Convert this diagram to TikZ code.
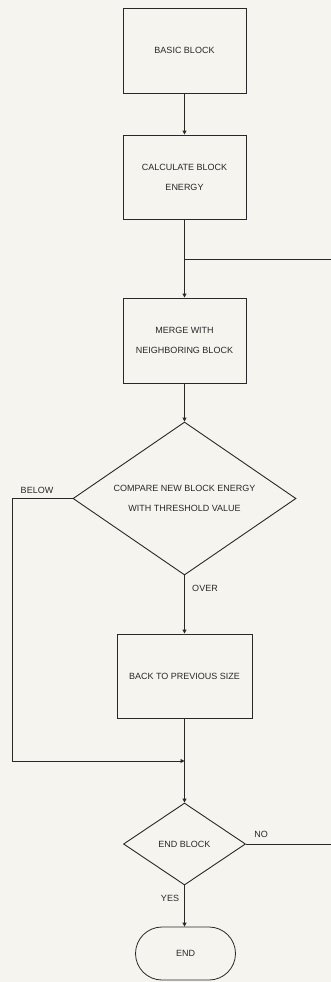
\documentclass[tikz,border=0pt]{standalone}
\usepackage{fontspec}
\setmainfont{Liberation Sans}
\usetikzlibrary{shapes.geometric,shapes.misc,arrows.meta}
\definecolor{paper}{RGB}{246,244,238}
\definecolor{ink}{RGB}{40,40,40}
\begin{document}
\begin{tikzpicture}[x=1pt,y=-1pt,
  every node/.style={font=\fontsize{9}{20}\selectfont, text=ink},
  procbox/.style={draw=ink, line width=0.9pt, rectangle, inner sep=0pt, align=center},
  decision/.style={draw=ink, line width=0.9pt, diamond, shape aspect=1.46, inner sep=0pt, align=center},
  terminal/.style={draw=ink, line width=0.8pt, rounded rectangle, inner sep=0pt, align=center},
  conn/.style={draw=ink, line width=0.9pt},
  arr/.style={conn, -{Triangle[length=4pt,width=4pt]}},
  lbl/.style={inner sep=0pt}]
\useasboundingbox[fill=paper] (0,0) rectangle (331,982);
\node[procbox, minimum width=123pt, minimum height=85pt] (basic) at (184.5,50.5) {BASIC BLOCK};
\node[procbox, minimum width=123pt, minimum height=84pt] (calc) at (184.5,177) {CALCULATE BLOCK\\ENERGY};
\node[procbox, minimum width=123pt, minimum height=85pt] (merge) at (184.5,340.5) {MERGE WITH\\NEIGHBORING BLOCK};
\node[decision, minimum width=223pt, minimum height=153pt] (cmp) at (184.5,498.5) {COMPARE NEW BLOCK ENERGY\\WITH THRESHOLD VALUE};
\node[procbox, minimum width=135pt, minimum height=84pt] (back) at (184.5,676) {BACK TO PREVIOUS SIZE};
\node[decision, minimum width=122pt, minimum height=82pt] (endblk) at (184.5,844) {END BLOCK};
\node[terminal, minimum width=100pt, minimum height=53pt] (fin) at (185.5,953.5) {END};
\coordinate (j1) at (184.5,259);
\coordinate (r1) at (331,259);
\coordinate (j2) at (184.5,761);
\coordinate (l1) at (12,498.5);
\coordinate (l2) at (12,761);
\coordinate (r2) at (331,844);
\draw[arr] (basic) -- (calc);
\draw[conn] (calc) -- (j1);
\draw[arr] (j1) -- (merge);
\draw[conn] (r1) -- (j1);
\draw[arr] (merge) -- (cmp.north);
\draw[arr] (cmp.south) -- (back);
\draw[conn] (cmp.west) -- (l1) -- (l2);
\draw[arr] (l2) -- (j2);
\draw[conn] (back) -- (j2);
\draw[arr] (j2) -- (endblk.north);
\draw[conn] (endblk.east) -- (r2);
\draw[arr] (endblk.south) -- (fin.north -| endblk.south);
\node[lbl] (below) at (37,490) {BELOW};
\node[lbl] (over) at (205,588) {OVER};
\node[lbl] (no) at (261,834) {NO};
\node[lbl] (yes) at (170,898) {YES};
\end{tikzpicture}
\end{document}
